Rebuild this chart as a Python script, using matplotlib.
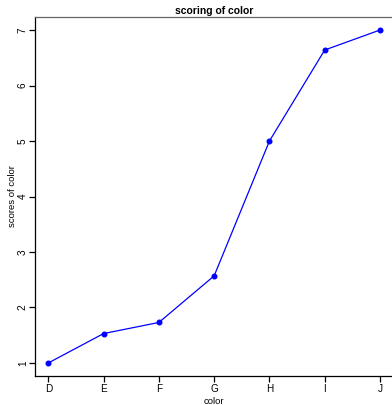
import matplotlib
matplotlib.use("Agg")
from matplotlib import pyplot as plt

# scoring of color data
colors = ["D", "E", "F", "G", "H", "I", "J"]
scores = [1.0, 1.53, 1.73, 2.57, 5.0, 6.64, 7.0]
y_ticks = [1, 2, 3, 4, 5, 6, 7]

plt.rcParams['font.family'] = ['Liberation Sans', 'DejaVu Sans']

fig = plt.figure(figsize=(3.92, 4.05), dpi=100)
ax = fig.add_axes([35 / 392, 1 - 376.3 / 405, 358.3 / 392, 359.6 / 405])

x = list(range(1, len(colors) + 1))
ax.plot(x, scores, color='blue', linewidth=0.9, marker='o', markersize=3.3)

ax.set_xlim(0.76, 7.24)
ax.set_ylim(0.76, 7.24)
ax.set_xticks(x)
ax.set_xticklabels(colors, fontsize=7.2)
ax.set_yticks(y_ticks)
ax.set_yticklabels([str(v) for v in y_ticks], fontsize=7.2, rotation=90, va='center')
ax.tick_params(axis='x', length=4, width=0.9, pad=1.5)
ax.tick_params(axis='y', length=4, width=0.9, pad=1.2)

for s in ['top', 'right']:
    ax.spines[s].set_color('#666666')
    ax.spines[s].set_linewidth(0.9)
for s in ['left', 'bottom']:
    ax.spines[s].set_color('black')
    ax.spines[s].set_linewidth(0.9)

ax.set_xlabel("color", fontsize=6.8, labelpad=2)
ax.set_ylabel("scores of color", fontsize=6.8, labelpad=0.5)
ax.set_title("scoring of color", fontsize=7.5, fontweight='bold', pad=2)

fig.savefig("out.png", dpi=100)
